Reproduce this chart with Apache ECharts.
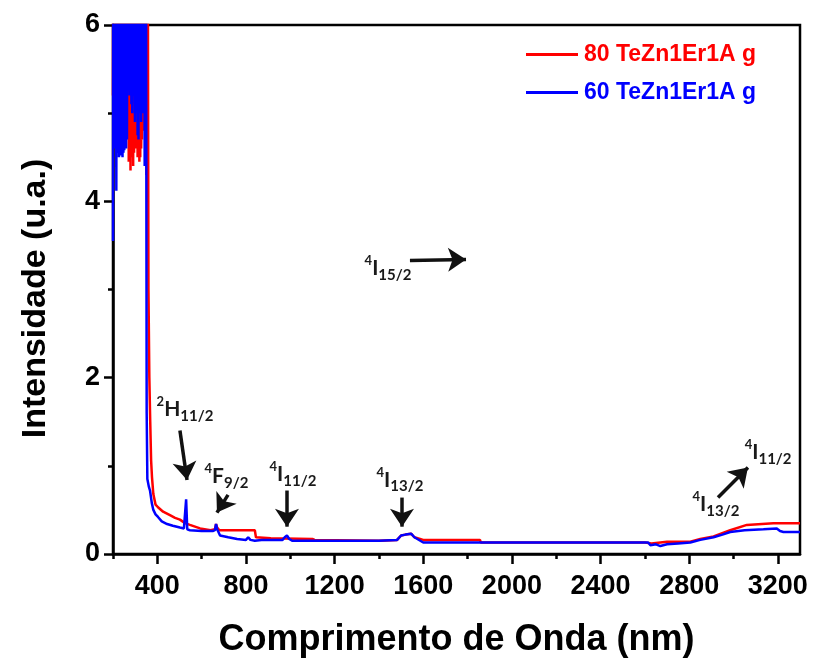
<!DOCTYPE html>
<html><head><meta charset="utf-8">
<script src="https://cdn.jsdelivr.net/npm/echarts@6/dist/echarts.min.js"></script>
<style>html,body{margin:0;padding:0;background:#fff}#c{width:815px;height:663px}</style>
</head><body><div id="c"></div>
<script>
const seriesNames = ['80 TeZn1Er1A g', '60 TeZn1Er1A g'];
const seriesColors = ['#ff0000', '#0000ff'];
const xTicks = [400, 800, 1200, 1600, 2000, 2400, 2800, 3200];
const xMinorTicks = [200, 600, 1000, 1400, 1800, 2200, 2600, 3000];
const xRange = [200, 3300];
const yRange = [0, 6];

// 80TeZn1Er1Ag (red) [wavelength nm, intensity]
const red80 = [
 [200,5.2],[201,6.9],[203,5.0],[205,7.0],[207,4.9],[209,6.8],[211,5.5],[213,7.1],[215,5.6],[217,6.9],
 [219,5.3],[221,7.0],[223,5.2],[225,6.8],[227,5.4],[229,7.1],[231,5.5],[233,6.9],[235,5.3],[237,7.0],
 [239,5.5],[241,6.8],[243,5.4],[245,7.2],[247,5.2],[249,6.9],[251,5.3],[253,7.0],[255,5.1],[257,6.8],
 [259,5.0],[261,7.1],[263,4.9],[265,6.9],[267,4.95],[269,7.0],[271,4.45],[273,6.8],[275,4.5],[277,7.1],
 [279,4.35],[281,6.9],[283,4.6],[285,7.0],[287,4.5],[289,5.6],[291,4.4],[293,6.9],[295,4.55],[297,5.3],
 [299,4.7],[301,7.0],[303,4.6],[305,5.4],[307,4.65],[309,7.1],[311,4.5],[313,5.2],[315,4.55],[317,6.9],
 [319,4.45],[321,5.0],[323,4.5],[325,7.0],[327,4.6],[329,5.1],[331,4.7],[333,6.8],[335,4.8],[337,5.2],
 [339,4.9],[341,7.1],[343,5.0],[345,6.9],[347,4.7],[349,7.0],[351,4.3],[353,6.9],[355,4.0],[357,7.0],
 [360,3.0],[364,2.0],[368,1.5],[372,1.06],[376,0.87],[382,0.68],[392,0.56],[403,0.53],[426,0.48],
 [457,0.44],[480,0.41],[502,0.39],[525,0.35],[530,0.36],[533,0.35],[547,0.33],[593,0.29],[640,0.27],
 [660,0.28],[665,0.34],[670,0.30],[680,0.27],[840,0.27],[845,0.19],[912,0.18],[1100,0.17],[1110,0.16],
 [1400,0.15],[1482,0.16],[1500,0.21],[1520,0.22],[1545,0.23],[1560,0.19],[1600,0.16],[1856,0.16],
 [1860,0.13],[2600,0.13],[2630,0.12],[2700,0.14],[2770,0.14],[2805,0.14],[2850,0.17],[2910,0.20],
 [2985,0.27],[3060,0.33],[3180,0.35],[3300,0.35]
];

// 60TeZn1Er1Ag (blue)
const blue60 = [
 [200,3.55],[201,6.8],[203,4.9],[205,7.0],[207,5.3],[209,6.9],[211,4.6],[213,7.1],[215,4.12],[217,6.9],
 [219,4.7],[221,7.0],[223,4.55],[225,6.8],[227,4.5],[229,7.2],[231,4.6],[233,6.9],[235,4.52],[237,7.0],
 [239,4.6],[241,6.8],[243,4.5],[245,7.1],[247,4.55],[249,6.9],[251,4.58],[253,7.0],[255,4.65],[257,6.8],
 [259,4.6],[261,7.1],[263,4.7],[265,6.9],[267,5.3],[269,7.0],[271,5.4],[273,6.8],[275,5.2],[277,7.1],
 [279,5.3],[281,6.9],[283,5.1],[285,7.0],[287,5.0],[289,6.8],[291,5.2],[293,7.2],[295,5.25],[297,6.9],
 [299,4.9],[301,7.0],[303,5.1],[305,6.8],[307,5.0],[309,7.1],[311,4.75],[313,6.9],[315,4.7],[317,7.0],
 [319,5.0],[321,6.8],[323,5.1],[325,7.1],[327,4.9],[329,6.9],[331,5.2],[333,7.0],[335,5.0],[337,6.8],
 [339,5.1],[341,7.0],[343,4.4],[345,6.9],[347,4.8],[349,7.0],
 [352,1.6],[355,0.85],[362,0.76],[367,0.72],[375,0.58],[382,0.50],[392,0.45],[403,0.42],[420,0.37],
 [444,0.34],[470,0.32],[502,0.30],[520,0.29],[528,0.29],[530,0.62],[533,0.62],[535,0.28],[547,0.27],
 [600,0.26],[650,0.26],[660,0.27],[665,0.34],[670,0.28],[683,0.21],[720,0.19],[760,0.17],[800,0.16],
 [810,0.19],[820,0.16],[840,0.15],[870,0.16],[965,0.16],[975,0.19],[985,0.21],[995,0.17],[1010,0.15],
 [1100,0.15],[1400,0.15],[1482,0.16],[1500,0.21],[1520,0.22],[1545,0.23],[1560,0.19],[1600,0.13],
 [1800,0.13],[2200,0.13],[2615,0.13],[2625,0.10],[2650,0.11],[2670,0.09],[2700,0.11],[2750,0.12],
 [2805,0.13],[2850,0.16],[2910,0.19],[2950,0.22],[2985,0.25],[3050,0.27],[3135,0.28],[3195,0.29],
 [3210,0.26],[3225,0.25],[3300,0.25]
];

// annotation arrows: [from, to] in data coordinates
const arrows = [
 [[502,1.40],[534,0.84]],
 [[719,0.67],[669,0.47]],
 [[985,0.72],[985,0.31]],
 [[1504,0.64],[1504,0.31]],
 [[1540,3.33],[1793,3.34]],
 [[2930,0.64],[3065,0.98]]
];
// annotation labels: position, superscript, term, subscript
const labels = [
 [[525,1.64],'2','H','11/2'],
 [[712,0.88],'4','F','9/2'],
 [[1012,0.90],'4','I','11/2'],
 [[1495,0.84],'4','I','13/2'],
 [[1441,3.24],'4','I','15/2'],
 [[3156,1.15],'4','I','11/2'],
 [[2921,0.56],'4','I','13/2']
];

const chart = echarts.init(document.getElementById('c'), null, {renderer:'canvas'});
const annFont = 'Lato, "Open Sans", sans-serif';
const mainFont = '"Liberation Sans", Arial, sans-serif';

const markPointData = labels.map(l => ({
  coord: l[0], symbol: 'rect', symbolSize: 1,
  itemStyle: { color: 'rgba(0,0,0,0)' },
  label: { show: true, position: 'inside',
    formatter: '{sup|' + l[1] + '}{main|' + l[2] + '}{sub|' + l[3] + '}' }
}));
const markLineData = arrows.map(a => [{coord: a[0]}, {coord: a[1]}]);

const option = {
  animation: false,
  backgroundColor: '#fff',
  grid: { left: 113, right: 15, top: 25, bottom: 106, show: true,
          borderColor: '#000', borderWidth: 2.5, backgroundColor: 'transparent' },
  legend: {
    left: 521, top: 38, orient: 'vertical', icon: 'rect', itemWidth: 52, itemHeight: 3, itemGap: 15,
    data: seriesNames.map((n, i) => ({ name: n, itemStyle: { color: seriesColors[i] }, textStyle: { color: seriesColors[i] } })),
    textStyle: { fontFamily: mainFont, fontWeight: 'bold', fontSize: 23, lineHeight: 22, padding: [0,0,0,1] }
  },
  xAxis: [{
    type: 'value', min: xRange[0], max: xRange[1], position: 'bottom',
    splitLine: { show: false },
    axisLine: { show: true, onZero: false, lineStyle: { color: '#000', width: 2.5 } },
    axisTick: { show: true, customValues: xTicks, length: 10, inside: false, lineStyle: { color: '#000', width: 2.5 } },
    axisLabel: { show: true, customValues: xTicks, margin: 19, color: '#000',
      formatter: v => String(v),
      fontFamily: mainFont, fontWeight: 'bold', fontSize: 27 },
    name: 'Comprimento de Onda (nm)', nameLocation: 'middle', nameGap: 68,
    nameTextStyle: { fontFamily: mainFont, fontWeight: 'bold', fontSize: 36, color: '#000' }
  }, {
    type: 'value', min: xRange[0], max: xRange[1], position: 'bottom',
    splitLine: { show: false },
    axisLine: { show: false, onZero: false },
    axisTick: { show: true, customValues: xMinorTicks, length: 5, lineStyle: { color: '#000', width: 2.5 } },
    axisLabel: { show: false }
  }],
  yAxis: {
    type: 'value', min: yRange[0], max: yRange[1], interval: 2,
    splitLine: { show: false },
    axisLine: { show: true, onZero: false, lineStyle: { color: '#000', width: 2.5 } },
    axisTick: { show: true, length: 9, lineStyle: { color: '#000', width: 2.5 } },
    minorTick: { show: true, splitNumber: 2, length: 5, lineStyle: { color: '#000', width: 2.5 } },
    axisLabel: { margin: 13, color: '#000', fontFamily: mainFont, fontWeight: 'bold', fontSize: 27 },
    name: 'Intensidade (u.a.)', nameLocation: 'middle', nameGap: 60,
    nameTextStyle: { fontFamily: mainFont, fontWeight: 'bold', fontSize: 34, color: '#000', padding: [0, 18, 0, 0] }
  },
  series: [{
    name: seriesNames[0], type: 'line', data: red80, xAxisIndex: 0,
    symbol: 'none', showSymbol: false, clip: true,
    lineStyle: { color: seriesColors[0], width: 2.5 }, itemStyle: { color: seriesColors[0] }
  }, {
    name: seriesNames[1], type: 'line', data: blue60, xAxisIndex: 0,
    symbol: 'none', showSymbol: false, clip: true,
    lineStyle: { color: seriesColors[1], width: 2.5 }, itemStyle: { color: seriesColors[1] },
    markLine: {
      silent: true, symbol: ['none', 'arrow'], symbolSize: [18, 18], precision: 5,
      lineStyle: { color: '#111', width: 3.5, type: 'solid' }, label: { show: false },
      emphasis: { disabled: true },
      data: markLineData
    },
    markPoint: {
      silent: true,
      label: {
        color: '#1a1a1a',
        rich: {
          sup: { fontFamily: annFont, fontWeight: 'bold', fontSize: 13, color: '#1a1a1a', verticalAlign: 'top', lineHeight: 14 },
          main: { fontFamily: annFont, fontWeight: 'bold', fontSize: 21, color: '#1a1a1a', verticalAlign: 'middle', lineHeight: 28 },
          sub: { fontFamily: annFont, fontWeight: 'bold', fontSize: 15, color: '#1a1a1a', verticalAlign: 'bottom', lineHeight: 16 }
        }
      },
      data: markPointData
    }
  }]
};
chart.setOption(option);
</script>
</body></html>
